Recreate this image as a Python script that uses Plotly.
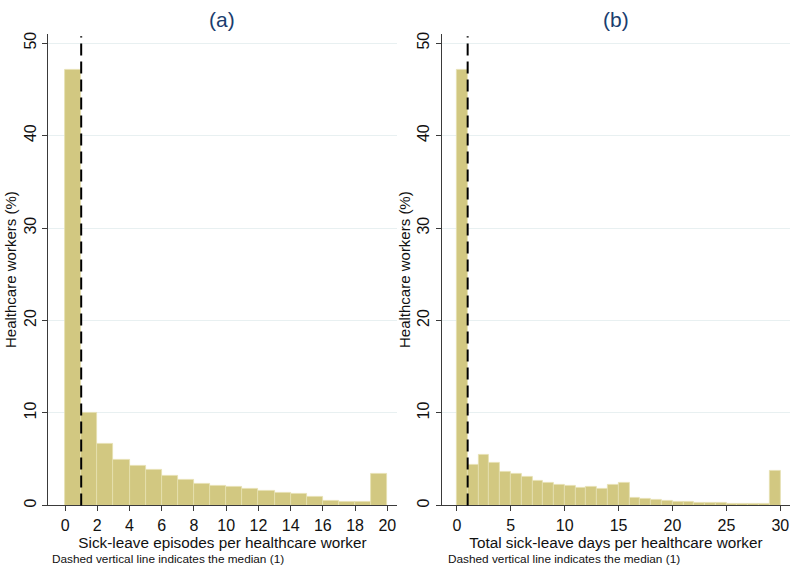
import plotly.graph_objects as go

# ---- data ----
episodes_bin_start = list(range(0, 20))
episodes_pct = [47.1, 10.0, 6.65, 4.96, 4.28, 3.85, 3.2, 2.73, 2.37, 2.16,
                2.01, 1.83, 1.62, 1.40, 1.22, 0.97, 0.54, 0.40, 0.39, 3.43]

days_bin_start = list(range(0, 30))
days_pct = [47.1, 4.39, 5.47, 4.64, 3.6, 3.38, 3.09, 2.70, 2.41, 2.27,
            2.12, 1.91, 1.98, 1.80, 2.19, 2.41, 0.82, 0.75, 0.61, 0.50,
            0.43, 0.36, 0.32, 0.29, 0.25, 0.22, 0.22, 0.22, 0.18, 3.79]

median_episodes = 1
median_days = 1

titles = ["(a)", "(b)"]
x_titles = ["Sick-leave episodes per healthcare worker",
            "Total sick-leave days per healthcare worker"]
y_title = "Healthcare workers (%)"
note = "Dashed vertical line indicates the median (1)"
y_ticks = [0, 10, 20, 30, 40, 50]
x_ticks_a = list(range(0, 21, 2))
x_ticks_b = list(range(0, 31, 5))

# ---- style ----
FONT = "Liberation Sans, Arial, Helvetica, sans-serif"
BAR = "#d2c881"
BAR_EDGE = "#e6dfb0"
GRID = "#e8f0f1"
AX = "#3a3a3a"
TITLE_C = "#1a3d6e"

fig = go.Figure()

fig.add_trace(go.Bar(x=[b + 0.5 for b in episodes_bin_start], y=episodes_pct, width=1,
                     marker=dict(color=BAR, line=dict(color=BAR_EDGE, width=0.8)),
                     xaxis="x", yaxis="y", showlegend=False, hoverinfo="x+y"))
fig.add_trace(go.Bar(x=[b + 0.5 for b in days_bin_start], y=days_pct, width=1,
                     marker=dict(color=BAR, line=dict(color=BAR_EDGE, width=0.8)),
                     xaxis="x2", yaxis="y2", showlegend=False, hoverinfo="x+y"))

ydom = [0.1136, 0.944]
common_x = dict(showline=True, linecolor=AX, linewidth=1, ticks="outside", ticklen=5,
                tickcolor=AX, showgrid=False, zeroline=False,
                tickfont=dict(family=FONT, size=16, color="#111"),
                title_font=dict(family=FONT, size=15.3, color="#111"), title_standoff=4)
common_y = dict(showline=True, linecolor=AX, linewidth=1, ticks="outside", ticklen=5,
                tickcolor=AX, showgrid=True, gridcolor=GRID, gridwidth=1, zeroline=False,
                tickangle=-90, tickvals=y_ticks, range=[0, 51],
                tickfont=dict(family=FONT, size=16, color="#111"),
                title_font=dict(family=FONT, size=15, color="#111"), title_standoff=1,
                domain=ydom)

fig.update_layout(
    width=796, height=572,
    margin=dict(l=0, r=0, t=0, b=0),
    plot_bgcolor="white", paper_bgcolor="white",
    bargap=0,
    xaxis=dict(domain=[0.0603, 0.4987], range=[-1.06, 20.6], tickvals=x_ticks_a,
               title_text=x_titles[0], anchor="y", **common_x),
    yaxis=dict(anchor="x", title_text=y_title, **common_y),
    xaxis2=dict(domain=[0.555, 0.9925], range=[-1.4, 30.9], tickvals=x_ticks_b,
                title_text=x_titles[1], anchor="y2", **common_x),
    yaxis2=dict(anchor="x2", title_text=y_title, **common_y),
)

# median dashed lines
for xr, yr, med in [("x", "y", median_episodes), ("x2", "y2", median_days)]:
    fig.add_shape(type="line", xref=xr, yref=yr + " domain", x0=med, x1=med, y0=0, y1=0.995,
                  line=dict(color="black", width=2, dash="12px,6px"))

# panel titles and notes
for dom, t in zip([[0.0603, 0.4987], [0.555, 0.9925]], titles):
    fig.add_annotation(text=t, x=(dom[0] + dom[1]) / 2, y=1 - 18 / 572, xref="paper", yref="paper",
                       showarrow=False, xanchor="center", yanchor="middle",
                       font=dict(family=FONT, size=21, color=TITLE_C))
for x0 in [50 / 796, 446 / 796]:
    fig.add_annotation(text=note, x=x0, y=1 - 561 / 572, xref="paper", yref="paper",
                       showarrow=False, xanchor="left", yanchor="middle",
                       font=dict(family=FONT, size=11.8, color="#111"))

fig.write_html("out.html")
